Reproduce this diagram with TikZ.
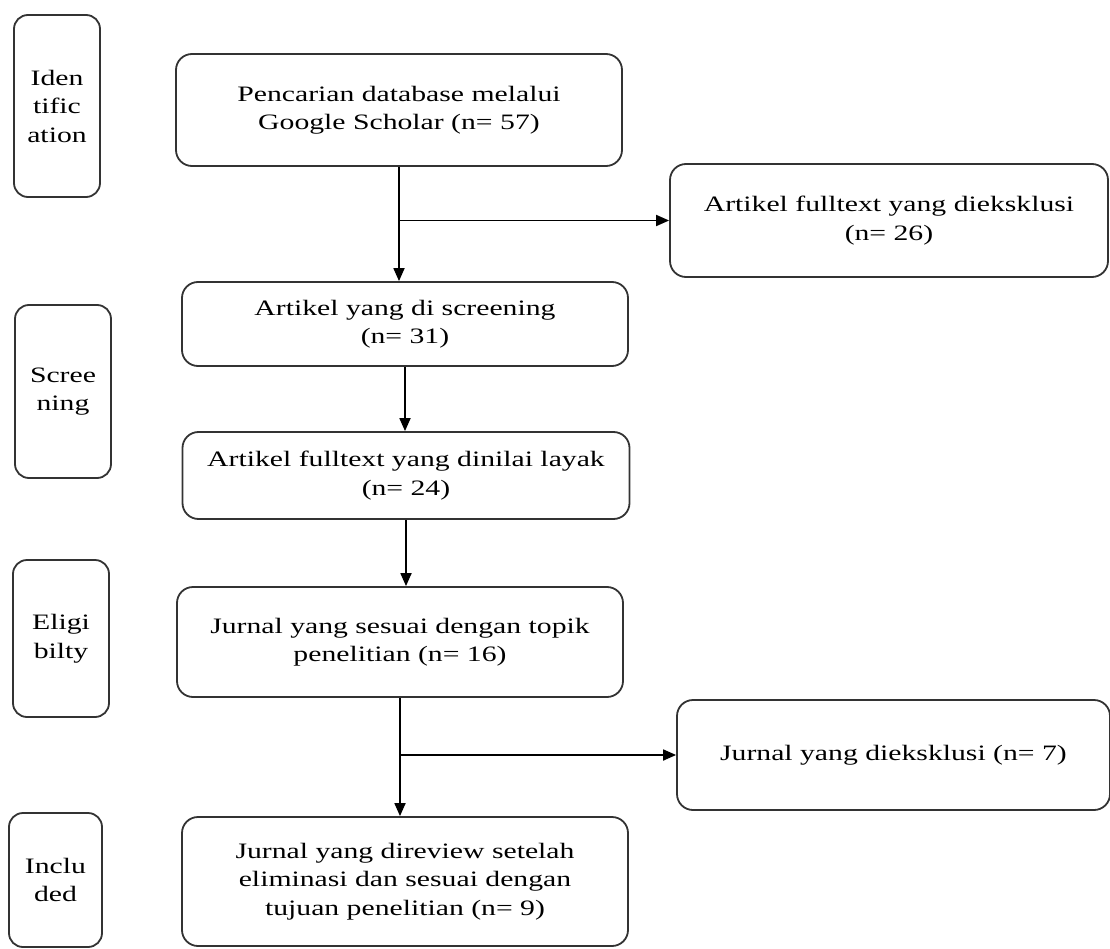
\documentclass[tikz,border=0pt]{standalone}
\usepackage{fontspec}
\setmainfont{Liberation Serif}[FakeStretch=1.35]
\usetikzlibrary{arrows.meta}

\begin{document}
\begin{tikzpicture}[x=1pt,y=-1pt]
        \tikzset{box/.style={draw=black!80,line width=1.8pt,rounded corners=16pt,align=center,
                    inner sep=0pt,font=\fontsize{22}{28.5}\selectfont},
            stage/.style={box,rounded corners=14pt},
            arr/.style={draw,line width=1.8pt,-{Triangle[length=13pt,width=11pt]}}}
        \useasboundingbox (0,0) rectangle (1110,949);
        % stages
        \node[stage,minimum width=86pt,minimum height=182pt] (iden) at (57,106) {Iden\\tific\\ation};
        \node[stage,minimum width=96pt,minimum height=173pt] (scr) at (63,391.5) {Scree\\ning};
        \node[stage,minimum width=96pt,minimum height=157pt] (elig) at (61,638.5) {Eligi\\bilty};
        \node[stage,minimum width=93pt,minimum height=134pt] (incl) at (55.5,880) {Inclu\\ded};
        % flow
        \node[box,minimum width=446pt,minimum height=112pt] (search) at (399,110)
            {Pencarian database melalui\\Google Scholar (n= 57)};
        \node[box,minimum width=438pt,minimum height=113pt] (excl1) at (889,220.5)
            {Artikel fulltext yang dieksklusi\\(n= 26)};
        \node[box,minimum width=446pt,minimum height=84pt] (screened) at (405,324)
            {Artikel yang di screening\\(n= 31)};
        \node[box,minimum width=447pt,minimum height=87pt] (eligible) at (406,475.5)
            {Artikel fulltext yang dinilai layak\\(n= 24)};
        \node[box,minimum width=446pt,minimum height=110pt] (topic) at (400,642)
            {Jurnal yang sesuai dengan topik\\penelitian (n= 16)};
        \node[box,minimum width=433pt,minimum height=110pt] (excl2) at (893.5,755)
            {Jurnal yang dieksklusi (n= 7)};
        \node[box,minimum width=446pt,minimum height=129pt] (included) at (405,881.5)
            {Jurnal yang direview setelah\\eliminasi dan sesuai dengan\\tujuan penelitian (n= 9)};
        % connectors
        \draw[arr] (search.south) -- (search.south |- screened.north);
        \draw[arr] (search.south |- excl1.west) -- (excl1.west);
        \draw[arr] (screened.south) -- (screened.south |- eligible.north);
        \draw[arr] (eligible.south) -- (eligible.south |- topic.north);
        \draw[arr] (topic.south) -- (topic.south |- included.north);
        \draw[arr] (topic.south |- excl2.west) -- (excl2.west);
    \end{tikzpicture}
\end{document}
